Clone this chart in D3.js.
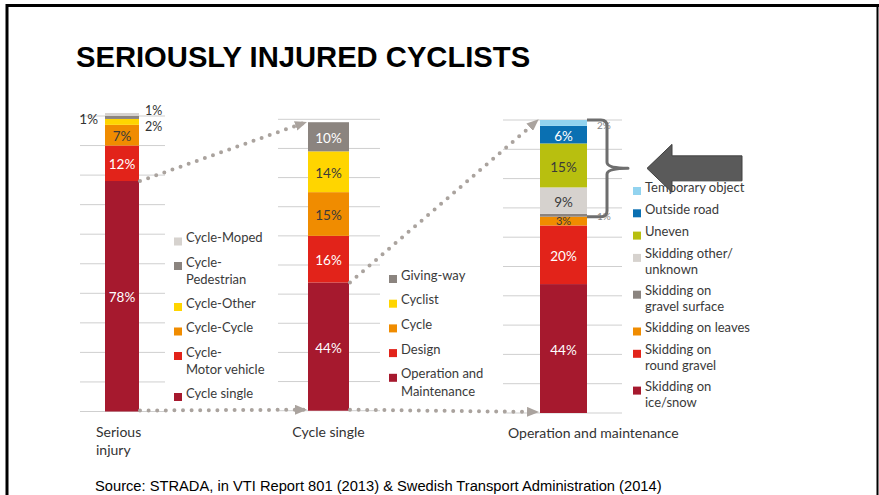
<!DOCTYPE html>
<html>
<head>
<meta charset="utf-8">
<script src="https://cdn.jsdelivr.net/npm/d3@7"></script>
<style>
  body { margin: 0; background: #fff; }
  svg { display: block; font-family: Lato, "Open Sans", sans-serif; }
</style>
</head>
<body>
<div id="chart"></div>
<script>
// data
var categories = ["Serious\ninjury", "Cycle single", "Operation and maintenance"];

var seriousLabels = ["Cycle single", "Cycle-\nMotor vehicle", "Cycle-Cycle", "Cycle-Other", "Cycle-\nPedestrian", "Cycle-Moped"];
var seriousValues = [78, 12, 7, 2, 1, 1];

var singleLabels = ["Operation and\nMaintenance", "Design", "Cycle", "Cyclist", "Giving-way"];
var singleValues = [44, 16, 15, 14, 10];

var omLabels = ["Skidding on\nice/snow", "Skidding on\nround gravel", "Skidding on leaves", "Skidding on\ngravel surface",
                "Skidding other/\nunknown", "Uneven", "Outside road", "Temporary object"];
var omValues = [44, 20, 3, 1, 9, 15, 6, 2];

var gridTicks = d3.range(0, 101, 10);

var c = {
  darkred: "#a6192e", red: "#e2231a", orange: "#f08c00", yellow: "#ffd500",
  gray: "#8b847f", lightgray: "#d6d2ce", olive: "#b8bf0f", blue: "#0a70b2", lightblue: "#92d3ef"
};
var darkText = [c.orange, c.yellow, c.olive, c.lightgray];

var width = 879, height = 495;
var svg = d3.select("#chart").append("svg")
    .attr("width", width)
    .attr("height", height);

// slide frame
svg.append("path")
    .attr("d", "M7,495 V5.5 H879")
    .attr("fill", "none")
    .attr("stroke", "#000")
    .attr("stroke-width", 3);
svg.append("line")
    .attr("x1", 877.5).attr("x2", 877.5).attr("y1", 4).attr("y2", 495)
    .attr("stroke", "#000").attr("stroke-width", 2);

svg.append("text")
    .attr("x", 76).attr("y", 67)
    .style("font-family", "'Liberation Sans', Arial, sans-serif")
    .style("font-weight", "bold")
    .style("font-size", "29.2px")
    .attr("fill", "#000")
    .text("SERIOUSLY INJURED CYCLISTS");

svg.append("text")
    .attr("x", 95).attr("y", 491)
    .style("font-family", "'Liberation Sans', Arial, sans-serif")
    .style("font-size", "14.7px")
    .attr("fill", "#000")
    .text("Source: STRADA, in VTI Report 801 (2013) & Swedish Transport Administration (2014)");

// bar left edges per panel
var x = d3.scaleLinear().domain([0, 1, 2]).range([105, 308, 540]);

var panels = [
  { labels: seriousLabels, values: seriousValues,
    colors: [c.darkred, c.red, c.orange, c.yellow, c.gray, c.lightgray],
    bw: 34, grid: [80, 165], yr: [411.5, 116],
    legend: { x: 174, y: 242, step: 24.5, extra: 16.5, lh: 17.5 },
    cat: { dx: -9, anchor: "start", y: 436.5 } },
  { labels: singleLabels, values: singleValues,
    colors: [c.darkred, c.red, c.orange, c.yellow, c.gray],
    bw: 41, grid: [278, 380], yr: [410.7, 119.3],
    legend: { x: 389, y: 279.5, step: 24.7, extra: 18, lh: 18 },
    cat: { dx: 20.5, anchor: "middle", y: 437 } },
  { labels: omLabels, values: omValues,
    colors: [c.darkred, c.red, c.orange, c.gray, c.lightgray, c.olive, c.blue, c.lightblue],
    bw: 47, grid: [503, 622], yr: [413, 120],
    legend: { x: 633, y: 191.5, step: 22.3, extra: 14.5, lh: 16 },
    cat: { dx: -32, anchor: "start", y: 438 } }
];

panels.forEach(function(p, i) {
  p.y = d3.scaleLinear().domain([0, 100]).range(p.yr);
  p.x0 = x(i);
  p.x1 = x(i) + p.bw;
  var cum = d3.cumsum(p.values);
  p.segs = p.values.map(function(v, j) {
    return { value: v, label: p.labels[j], color: p.colors[j], y0: cum[j] - v, y1: cum[j] };
  });
});

// gridlines
panels.forEach(function(p) {
  svg.append("g").attr("class", "grid")
    .selectAll("line")
    .data(gridTicks)
    .enter().append("line")
    .attr("x1", p.grid[0]).attr("x2", p.grid[1])
    .attr("y1", function(d) { return p.y(d); })
    .attr("y2", function(d) { return p.y(d); })
    .attr("stroke", "#cfcfcf")
    .attr("stroke-width", 1);
});

// stacked bars
panels.forEach(function(p) {
  var g = svg.append("g").attr("class", "bar");
  g.selectAll("rect")
    .data(p.segs)
    .enter().append("rect")
    .attr("x", p.x0)
    .attr("width", p.bw)
    .attr("y", function(d) { return p.y(d.y1); })
    .attr("height", function(d) { return p.y(d.y0) - p.y(d.y1); })
    .attr("fill", function(d) { return d.color; });

  g.selectAll("text")
    .data(p.segs.filter(function(d) { return d.value >= 3; }))
    .enter().append("text")
    .attr("x", p.x0 + p.bw / 2)
    .attr("y", function(d) { return p.y((d.y0 + d.y1) / 2); })
    .attr("dy", function(d) { return d.value < 5 ? "0.4em" : "0.46em"; })
    .attr("text-anchor", "middle")
    .style("font-size", function(d) { return d.value < 5 ? "11px" : "13.5px"; })
    .attr("fill", function(d) { return darkText.indexOf(d.color) >= 0 ? "#3a3a3a" : "#fff"; })
    .text(function(d) { return d.value + "%"; });
});

// small shares written beside the bars
var outside = [
  { panel: 0, index: 5, side: "left", dy: 5, size: 13.5, color: "#333" },
  { panel: 0, index: 4, side: "right", dy: -6.5, size: 12.5, color: "#333" },
  { panel: 0, index: 3, side: "right", dy: 4.5, size: 12.5, color: "#333" },
  { panel: 2, index: 7, side: "right", dy: 2, size: 10, color: "#888" },
  { panel: 2, index: 3, side: "right", dy: 1.5, size: 10, color: "#888" }
];
svg.append("g").selectAll("text")
  .data(outside)
  .enter().append("text")
  .attr("x", function(d) { var p = panels[d.panel]; return d.side == "left" ? p.x0 - 7 : p.x1 + (d.panel == 2 ? 10 : 6); })
  .attr("y", function(d) { var p = panels[d.panel], s = p.segs[d.index]; return p.y((s.y0 + s.y1) / 2) + d.dy; })
  .attr("dy", "0.36em")
  .attr("text-anchor", function(d) { return d.side == "left" ? "end" : "start"; })
  .style("font-size", function(d) { return d.size + "px"; })
  .attr("fill", function(d) { return d.color; })
  .text(function(d) { return panels[d.panel].segs[d.index].value + "%"; });

// legends, listed top-down (reverse of stack)
panels.forEach(function(p) {
  var L = p.legend;
  var items = p.segs.slice().reverse();
  var yy = L.y;
  items.forEach(function(d) {
    var lines = d.label.split("\n");
    var g = svg.append("g").attr("class", "legend-item");
    g.append("rect")
      .attr("x", L.x).attr("y", yy - 4.5)
      .attr("width", 8).attr("height", 8)
      .attr("fill", d.color);
    var t = g.append("text")
      .attr("x", L.x + 12)
      .attr("y", yy)
      .attr("dy", "0.36em")
      .style("font-size", "13px")
      .attr("fill", "#3a3a3a");
    lines.forEach(function(line, k) {
      t.append("tspan")
        .attr("x", L.x + 12)
        .attr("dy", k == 0 ? 0 : L.lh)
        .text(line);
    });
    yy += L.step + L.extra * (lines.length - 1);
  });
});

// category labels
panels.forEach(function(p, i) {
  var lines = categories[i].split("\n");
  var t = svg.append("text")
    .attr("x", p.x0 + p.cat.dx)
    .attr("y", p.cat.y)
    .attr("text-anchor", p.cat.anchor)
    .style("font-size", "14px")
    .attr("fill", "#333");
  lines.forEach(function(line, k) {
    t.append("tspan").attr("x", p.x0 + p.cat.dx).attr("dy", k == 0 ? 0 : 18.5).text(line);
  });
});

// dotted flow arrows
var defs = svg.append("defs");
defs.append("marker")
    .attr("id", "head")
    .attr("viewBox", "0 0 12 10")
    .attr("refX", 11).attr("refY", 5)
    .attr("markerWidth", 12).attr("markerHeight", 10)
    .attr("markerUnits", "userSpaceOnUse")
    .attr("orient", "auto")
  .append("path")
    .attr("d", "M0,0 L12,5 L0,10 Z")
    .attr("fill", "#aaa39e");

var flows = [];
for (var i = 0; i < panels.length - 1; i++) {
  var a = panels[i], b = panels[i + 1];
  var nextTotal = Math.min(d3.sum(b.values), 100);
  flows.push([[a.x1 + 1, a.y(a.values[0])], [b.x0 - 2, b.y(nextTotal)]]);
  flows.push([[a.x1 + 1, a.y(0) - 1], [b.x0 - 2, b.y(0) - 1]]);
}
svg.append("g").selectAll("line")
  .data(flows)
  .enter().append("line")
  .attr("x1", function(d) { return d[0][0]; })
  .attr("y1", function(d) { return d[0][1]; })
  .attr("x2", function(d) { return d[1][0]; })
  .attr("y2", function(d) { return d[1][1]; })
  .attr("stroke", "#aaa39e")
  .attr("stroke-width", 4)
  .attr("stroke-linecap", "round")
  .attr("stroke-dasharray", "0 8.6")
  .attr("marker-end", "url(#head)");

// brace over the non-skidding / gravel shares of the last bar
var p3 = panels[2];
var bTop = p3.y(100), bBot = p3.y(67), bMid = (bTop + bBot) / 2;
var xv = p3.x1 + 20, xt = p3.x1 + 41;
var brace = d3.path();
brace.moveTo(p3.x1, bTop);
brace.lineTo(xv - 6, bTop);
brace.quadraticCurveTo(xv, bTop, xv, bTop + 6);
brace.lineTo(xv, bMid - 6);
brace.quadraticCurveTo(xv, bMid, xt, bMid);
brace.quadraticCurveTo(xv, bMid, xv, bMid + 6);
brace.lineTo(xv, bBot - 6);
brace.quadraticCurveTo(xv, bBot, xv - 6, bBot);
brace.lineTo(p3.x1, bBot);
svg.append("path")
    .attr("d", brace.toString())
    .attr("fill", "none")
    .attr("stroke", "#6e6e6e")
    .attr("stroke-width", 3)
    .attr("stroke-linejoin", "round");

// big pointer arrow
var tx = xt + 19, hy = 24, sy = 12.5, hl = 25, tail = 742;
svg.append("path")
    .attr("d", "M" + tx + "," + bMid +
               " L" + (tx + hl) + "," + (bMid - hy) +
               " V" + (bMid - sy) + " H" + tail +
               " V" + (bMid + sy) + " H" + (tx + hl) +
               " V" + (bMid + hy) + " Z")
    .attr("fill", "#5a5a5a")
    .attr("stroke", "#404040")
    .attr("stroke-width", 1);
</script>
</body>
</html>
